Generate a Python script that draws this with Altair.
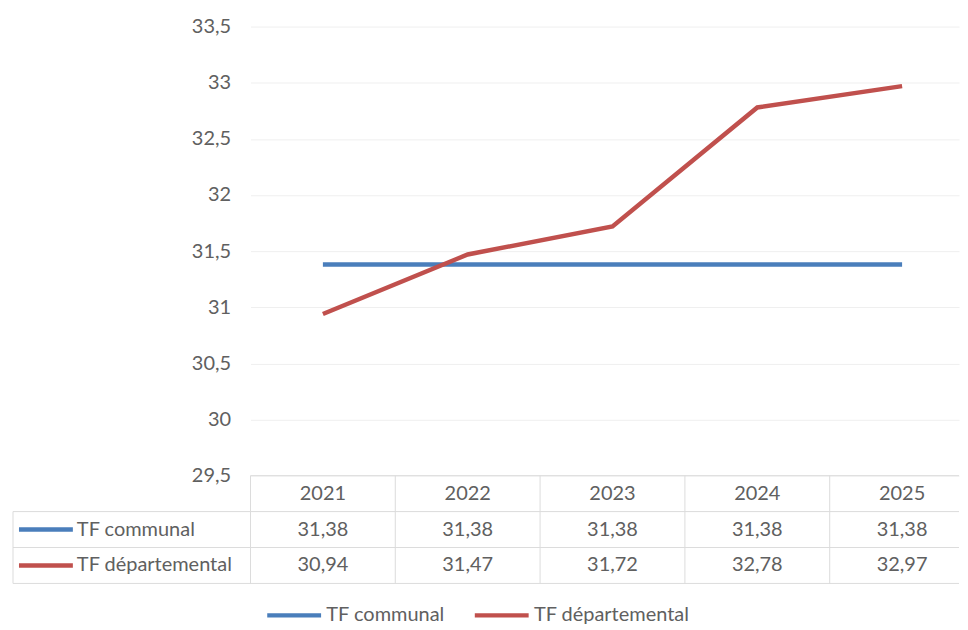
import altair as alt
import pandas as pd

years = [2021, 2022, 2023, 2024, 2025]
series = ["TF communal", "TF départemental"]
communal = [31.38, 31.38, 31.38, 31.38, 31.38]
departemental = [30.94, 31.47, 31.72, 32.78, 32.97]
y_ticks = [29.5, 30, 30.5, 31, 31.5, 32, 32.5, 33, 33.5]
colors = ["#4A7EBB", "#C0504D"]
header_row = "année"
rows = [header_row] + series

FONT = "Lato"
FS = 20
TXT = "#606060"
GRID = "#dcdcdc"
W = 710
H = 450
TH = 108

long = pd.DataFrame({
    "year": years * 2,
    "series": [series[0]] * len(years) + [series[1]] * len(years),
    "value": communal + departemental,
})

def fr(v):
    return f"{v:.2f}".replace(".", ",")

table_df = pd.DataFrame({
    "year": years * 3,
    "row": [header_row] * 5 + [series[0]] * 5 + [series[1]] * 5,
    "text": [str(y) for y in years] + [fr(v) for v in communal] + [fr(v) for v in departemental],
})
rows_df = pd.DataFrame({"row": rows})
series_df = pd.DataFrame({"row": series})
years_df = pd.DataFrame({"year": years})

x_scale = alt.Scale(domain=[2020.5, 2025.393], nice=False, zero=False)
color_scale = alt.Scale(domain=series, range=colors)
y_band = alt.Scale(type="band", domain=rows, paddingInner=0, paddingOuter=0)

top = alt.Chart(long).mark_line(strokeWidth=4.5).encode(
    x=alt.X("year:Q", scale=x_scale, axis=None),
    y=alt.Y("value:Q",
            scale=alt.Scale(domain=[29.5, 33.5], nice=False, zero=False),
            axis=alt.Axis(values=y_ticks,
                          labelExpr="replace(format(datum.value, ''), '.', ',')",
                          domain=False, ticks=False, labelPadding=20,
                          grid=True, gridColor="#efefef", gridWidth=1,
                          labelFont=FONT, labelFontSize=FS, labelColor=TXT,
                          title=None)),
    color=alt.Color("series:N", scale=color_scale, legend=None),
).properties(width=W, height=H)

# table grid
h_lines = alt.Chart(rows_df).mark_rule(color=GRID, strokeWidth=1).encode(
    y=alt.Y("row:N", scale=y_band, bandPosition=1, axis=None),
    x=alt.value(-238), x2=alt.value(W),
)
top_line = alt.Chart(pd.DataFrame({"row": [header_row]})).mark_rule(color=GRID, strokeWidth=1).encode(
    y=alt.Y("row:N", scale=y_band, bandPosition=0, axis=None),
    x=alt.value(0), x2=alt.value(W),
)
v_lines = alt.Chart(years_df).transform_calculate(
    edge="datum.year - 0.5"
).mark_rule(color=GRID, strokeWidth=1).encode(
    x=alt.X("edge:Q", scale=x_scale, axis=None),
)
left_border = alt.Chart(pd.DataFrame({"row": [series[0]]})).mark_rule(color=GRID, strokeWidth=1).encode(
    x=alt.value(-238), y=alt.value(TH / 3), y2=alt.value(TH),
)
cells = alt.Chart(table_df).mark_text(font=FONT, fontSize=FS, color=TXT, baseline="middle", align="center").encode(
    x=alt.X("year:Q", scale=x_scale, axis=None),
    y=alt.Y("row:N", scale=y_band, bandPosition=0.5, axis=None),
    text="text:N",
)
row_labels = alt.Chart(series_df).mark_text(font=FONT, fontSize=FS, color=TXT, baseline="middle", align="left").encode(
    x=alt.value(-174),
    y=alt.Y("row:N", scale=y_band, bandPosition=0.5, axis=None),
    text="row:N",
)
# legend key: a long horizontal stroke drawn to the left of a small symbol box
KEY_PATH = "M-7,0H1"
row_keys = alt.Chart(series_df).mark_rule(strokeWidth=4.5).encode(
    x=alt.value(-232), x2=alt.value(-178),
    y=alt.Y("row:N", scale=y_band, bandPosition=0.5, axis=None),
    color=alt.Color("row:N", scale=color_scale,
                    legend=alt.Legend(orient="none", legendX=54, legendY=130,
                                      direction="horizontal", title=None,
                                      symbolType=KEY_PATH, symbolSize=182,
                                      symbolStrokeWidth=4.5,
                                      labelFont=FONT, labelFontSize=FS, labelColor=TXT,
                                      labelOffset=2, columnPadding=20)),
)

table = alt.layer(h_lines, top_line, v_lines, left_border, cells, row_labels, row_keys).properties(
    width=W, height=TH
)

chart = alt.vconcat(top, table, spacing=0, bounds="flush").resolve_scale(
    color="independent"
).properties(
    padding={"left": 4, "top": 8, "right": 0, "bottom": 0}
).configure_view(stroke=None)

chart.save("out.html", embed_options={"renderer": "svg", "actions": False})
